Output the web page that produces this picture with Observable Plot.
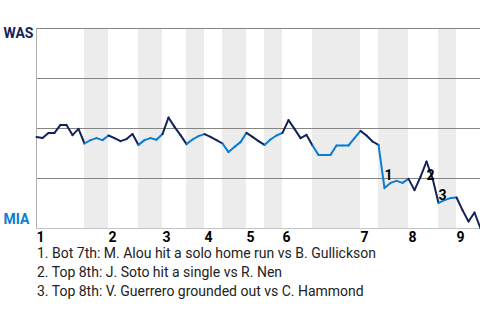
<!DOCTYPE html>
<html>
<head>
<meta charset="utf-8">
<script src="https://cdn.jsdelivr.net/npm/d3@7"></script>
<script src="https://cdn.jsdelivr.net/npm/@observablehq/plot@0.6"></script>
<style>
  html, body { margin: 0; padding: 0; background: #fff; }
  #caption { font-family: Roboto, sans-serif; font-size: 14px; line-height: 19px; color: #222; padding-left: 37px; }
</style>
</head>
<body>
<div id="chart"></div>
<div id="caption"></div>
<script>
// Win probability for WAS (percent) after each plate appearance (index 0 = start of game)
const wasWinProb = [
  45.8, 45.2, 47.8, 47.8, 51.8, 51.8, 46.7, 49.8, 42.5, 44.2,
  45.2, 44.2, 46.5, 45.2, 43.7, 44.7, 47.2, 41.8, 44.2, 45.2,
  44.4, 47.2, 55.5, 50.8, 46.7, 42.2, 44.5, 46.2, 47.2, 45.8,
  44.2, 42.5, 38.2, 40.8, 43.2, 47.8, 45.8, 43.7, 41.8, 44.5,
  46.5, 47.8, 54.2, 49.8, 45.2, 46.8, 41.5, 36.8, 36.8, 36.8,
  41.5, 41.5, 41.5, 45.2, 48.8, 46.5, 43.5, 41.8, 20.2, 22.8,
  23.8, 22.8, 24.8, 19.2, 25.8, 33.5, 25.2, 12.8, 14.2, 15.2,
  15.5, 9.2, 3.5, 8.0, 0
];
// Play index at which each half-inning begins (top 1st, bottom 1st, ... ) and final index
const halfInningBounds = [0, 8, 12, 17, 21, 25, 28, 31, 35, 38, 41, 46, 54, 57, 62, 67, 70, 74];
const inningLabels = ["1", "2", "3", "4", "5", "6", "7", "8", "9"];
const teams = ["WAS", "MIA"];
const teamColors = ["#14225a", "#0c7ccf"];
const yLevels = [25, 50, 75, 100];
const annotationPlays = [58, 65, 67];
const annotationLabels = ["1", "2", "3"];
const annotationTexts = [
  "1. Bot 7th: M. Alou hit a solo home run vs B. Gullickson",
  "2. Top 8th: J. Soto hit a single vs R. Nen",
  "3. Top 8th: V. Guerrero grounded out vs C. Hammond"
];

// Build tables
const segments = [];
for (let i = 1; i < wasWinProb.length; i++) {
  let h = 0;
  while (!(i > halfInningBounds[h] && i <= halfInningBounds[h + 1])) h++;
  segments.push({x1: i - 1, y1: wasWinProb[i - 1], x2: i, y2: wasWinProb[i], team: teams[h % 2]});
}
const bands = [];
for (let h = 1; h < halfInningBounds.length - 1; h += 2) {
  bands.push({x1: halfInningBounds[h], x2: halfInningBounds[h + 1]});
}
const innings = inningLabels.map((label, k) => ({label, x: halfInningBounds[2 * k]}));
const annotations = annotationPlays.map((p, k) => ({x: p, y: wasWinProb[p], label: annotationLabels[k]}));
const annotationDy = [-13, 14, -7];

const chart = Plot.plot({
  width: 480,
  height: 244,
  marginTop: 28,
  marginBottom: 16,
  marginLeft: 36,
  marginRight: 0,
  style: {fontFamily: "Roboto, sans-serif", overflow: "visible", background: "#fff"},
  x: {domain: [0, halfInningBounds[halfInningBounds.length - 1]], axis: null},
  y: {domain: [0, 100], axis: null},
  color: {domain: teams, range: teamColors},
  marks: [
    Plot.rect(bands, {x1: "x1", x2: "x2", fill: "#ececec"}),
    Plot.ruleY(yLevels, {stroke: "#858585"}),
    Plot.ruleY([0], {stroke: "#c4c4c4"}),
    Plot.ruleX([0], {stroke: "#b0b0b0"}),
    Plot.link(segments, {x1: "x1", y1: "y1", x2: "x2", y2: "y2", stroke: "team", strokeWidth: 2, strokeLinecap: "round"}),
    Plot.text(innings, {x: "x", y: () => 0, text: "label", textAnchor: "start", dy: 9, fontSize: 14, fontWeight: "bold", fill: "#000"}),
    Plot.text([teams[0]], {x: () => 0, y: () => 100, text: d => d, textAnchor: "start", dx: -33, dy: 5, fontSize: 14, fontWeight: "bold", fill: teamColors[0]}),
    Plot.text([teams[1]], {x: () => 0, y: () => 0, text: d => d, textAnchor: "start", dx: -33, dy: -9, fontSize: 14, fontWeight: "bold", fill: teamColors[1]}),
    ...annotations.map((a, k) => Plot.text([a], {x: "x", y: "y", text: "label", textAnchor: "start", dy: annotationDy[k], fontSize: 14, fontWeight: "bold", fill: "#000"}))
  ]
});
document.getElementById("chart").appendChild(chart);
document.getElementById("caption").innerHTML = annotationTexts.map(t => `<div>${t}</div>`).join("");
</script>
</body>
</html>
